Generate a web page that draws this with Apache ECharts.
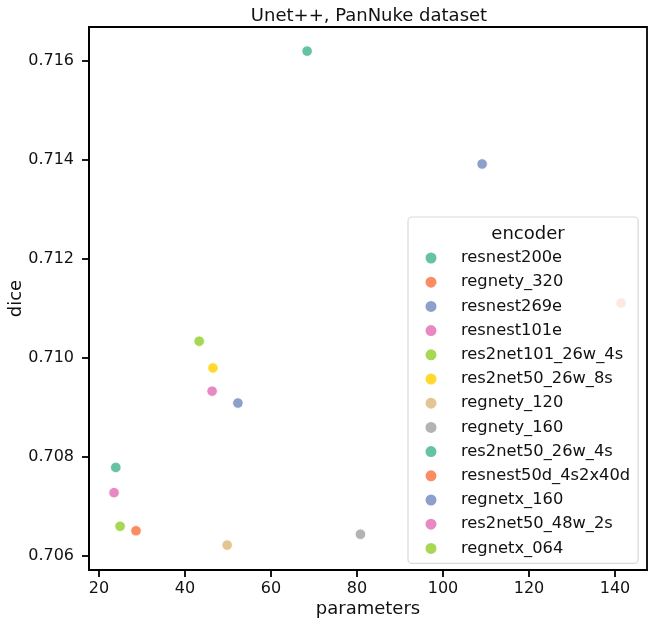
<!DOCTYPE html>
<html>
<head>
<meta charset="utf-8">
<script src="https://cdn.jsdelivr.net/npm/echarts@6/dist/echarts.min.js"></script>
<style>
  html, body { margin: 0; padding: 0; background: #fff; }
  #main { width: 654px; height: 627px; }
</style>
</head>
<body>
<div id="main"></div>
<script>
// encoders in legend order
const encoders = ['resnest200e', 'regnety_320', 'resnest269e', 'resnest101e', 'res2net101_26w_4s',
  'res2net50_26w_8s', 'regnety_120', 'regnety_160', 'res2net50_26w_4s', 'resnest50d_4s2x40d',
  'regnetx_160', 'res2net50_48w_2s', 'regnetx_064'];
// parameters (M)
const params = [68.4, 141.4, 109.1, 46.3, 43.3, 46.5, 49.8, 80.8, 23.9, 28.6, 52.3, 23.5, 24.9];
// dice
const dice = [0.71620, 0.71111, 0.71392, 0.70933, 0.71034, 0.70980, 0.70622, 0.70644, 0.70779, 0.70651, 0.70909, 0.70728, 0.70660];
const xTicks = [20, 40, 60, 80, 100, 120, 140];
const yTicks = [0.706, 0.708, 0.710, 0.712, 0.714, 0.716];
// Set2 palette
const palette = ['#66c2a5', '#fc8d62', '#8da0cb', '#e78ac3', '#a6d854', '#ffd92f', '#e5c494', '#b3b3b3'];

const font = 'DejaVu Sans';
const myChart = echarts.init(document.getElementById('main'));

let series = [];
for (let i = 0; i < encoders.length; i++) {
  series.push({
    name: encoders[i],
    type: 'scatter',
    symbolSize: 10.5,
    itemStyle: { color: palette[i % palette.length], borderColor: '#fff', borderWidth: 0.8, opacity: 1 },
    data: [[params[i], dice[i]]],
    z: 2
  });
}

let option = {
  animation: false,
  textStyle: { fontFamily: font },
  title: [{
    text: 'Unet++, PanNuke dataset',
    left: 364, top: 2,
    textAlign: 'center',
    textStyle: { fontFamily: font, fontSize: 18, fontWeight: 'normal', color: '#111' }
  }, {
    text: 'encoder',
    left: 523, top: 220,
    textAlign: 'center',
    textStyle: { fontFamily: font, fontSize: 18, fontWeight: 'normal', color: '#111' },
    z: 10
  }],
  grid: {
    left: 89, top: 27, right: 7, bottom: 57,
    outerBoundsMode: 'none',
    show: true, borderColor: '#000', borderWidth: 1.8, backgroundColor: 'transparent'
  },
  xAxis: {
    type: 'value',
    min: 17.67, max: 147.44,
    name: 'parameters',
    nameLocation: 'middle',
    nameGap: 30,
    nameMoveOverlap: false,
    nameTextStyle: { fontFamily: font, fontSize: 18, color: '#111' },
    axisLine: { show: true, lineStyle: { color: '#000', width: 1.8 } },
    axisTick: { show: true, length: 7, customValues: xTicks, lineStyle: { color: '#000', width: 1.8 } },
    axisLabel: { customValues: xTicks, margin: 11, fontFamily: font, fontSize: 16, color: '#111' },
    splitLine: { show: false }
  },
  yAxis: {
    type: 'value',
    min: 0.705717, max: 0.716687,
    name: 'dice',
    nameLocation: 'middle',
    nameGap: 64,
    nameMoveOverlap: false,
    nameTextStyle: { fontFamily: font, fontSize: 18, color: '#111' },
    axisLine: { show: true, lineStyle: { color: '#000', width: 1.8 } },
    axisTick: { show: true, length: 7, customValues: yTicks, lineStyle: { color: '#000', width: 1.8 } },
    axisLabel: {
      customValues: yTicks, margin: 15, fontFamily: font, fontSize: 16, color: '#111',
      formatter: function (v) { return v.toFixed(3); }
    },
    splitLine: { show: false }
  },
  legend: {
    orient: 'vertical',
    left: 408, top: 217,
    padding: [33, 8, 7, 17.5],
    itemWidth: 11, itemHeight: 11, itemGap: 8.2,
    icon: 'circle',
    backgroundColor: 'rgba(255,255,255,0.8)',
    borderColor: '#d9d9d9', borderWidth: 1.2, borderRadius: 4,
    textStyle: { fontFamily: font, fontSize: 16.3, lineHeight: 14, color: '#111', padding: [0, 0, 0, 19.5] },
    itemStyle: { borderWidth: 0 },
    data: encoders,
    z: 5
  },
  series: series
};
myChart.setOption(option);
</script>
</body>
</html>
